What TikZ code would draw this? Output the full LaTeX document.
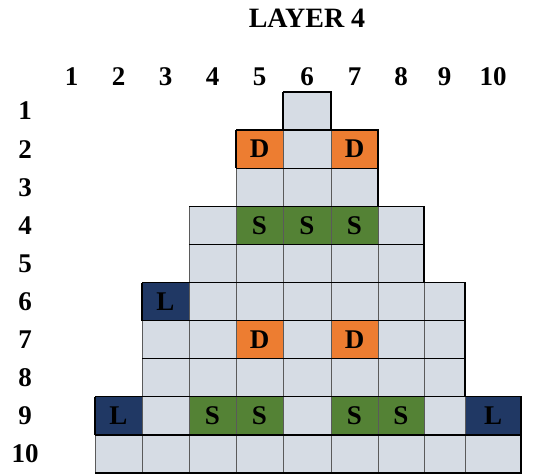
\documentclass[tikz,border=0pt]{standalone}
\usepackage{fontspec}
\setmainfont{Liberation Serif}
\usetikzlibrary{positioning}

\definecolor{cellgray}{HTML}{D6DCE4}
\definecolor{gridgray}{HTML}{5A5A5A}
\definecolor{doororange}{HTML}{ED7D31}
\definecolor{stairgreen}{HTML}{548235}
\definecolor{liftnavy}{HTML}{203864}

% column edges (left edge of column i is entry i)
\def\colx{{0,48,95,142,189,236,283,331,378,424,465,521}}

\newcommand{\gridcell}[4]{%
  \pgfmathsetmacro{\xa}{\colx[#2]}%
  \pgfmathsetmacro{\xb}{\colx[#2+1]}%
  \node[#3, minimum width={\xb-\xa}] (c-#1-#2)
    at ({(\xa+\xb)/2}, {92+38.1*(#1-0.5)}) {#4};}

\begin{document}
\begin{tikzpicture}[
  x=1pt, y=-1pt,
  lab/.style={inner sep=0pt, font=\fontsize{27}{30}\selectfont\bfseries},
  cell/.style={inner sep=0pt, outer sep=0pt, minimum height=38.1pt, draw=gridgray,
               line width=0.9pt, font=\fontsize{27}{30}\selectfont\bfseries},
  gcell/.style={cell, fill=cellgray},
  dcell/.style={cell, fill=doororange},
  scell/.style={cell, fill=stairgreen},
  lcell/.style={cell, fill=liftnavy},
  edge/.style={draw=black, line width=1.3pt, line join=miter},
]
\useasboundingbox (0,0) rectangle (556,475);
% ---- title and headers ----
\node[lab, font=\fontsize{28}{30}\selectfont\bfseries] (title) at (307,18) {LAYER 4};
\foreach \c in {1,...,10} {
  \pgfmathsetmacro{\xa}{\colx[\c]}
  \pgfmathsetmacro{\xb}{\colx[\c+1]}
  \node[lab] (h-\c) at ({(\xa+\xb)/2}, 77) {\c};
}
\foreach \r in {1,...,10}
  \node[lab] (rl-\r) at (25, {92+38.1*(\r-0.5)}) {\r};
% ---- cells, row by row ----
\foreach \c/\s/\t in {6/gcell/{}}
  {\gridcell{1}{\c}{\s}{\t}}
\foreach \c/\s/\t in {5/dcell/D, 6/gcell/{}, 7/dcell/D}
  {\gridcell{2}{\c}{\s}{\t}}
\foreach \c/\s/\t in {5/gcell/{}, 6/gcell/{}, 7/gcell/{}}
  {\gridcell{3}{\c}{\s}{\t}}
\foreach \c/\s/\t in {4/gcell/{}, 5/scell/S, 6/scell/S, 7/scell/S, 8/gcell/{}}
  {\gridcell{4}{\c}{\s}{\t}}
\foreach \c/\s/\t in {4/gcell/{}, 5/gcell/{}, 6/gcell/{}, 7/gcell/{}, 8/gcell/{}}
  {\gridcell{5}{\c}{\s}{\t}}
\foreach \c/\s/\t in {3/lcell/L, 4/gcell/{}, 5/gcell/{}, 6/gcell/{}, 7/gcell/{}, 8/gcell/{}, 9/gcell/{}}
  {\gridcell{6}{\c}{\s}{\t}}
\foreach \c/\s/\t in {3/gcell/{}, 4/gcell/{}, 5/dcell/D, 6/gcell/{}, 7/dcell/D, 8/gcell/{}, 9/gcell/{}}
  {\gridcell{7}{\c}{\s}{\t}}
\foreach \c/\s/\t in {3/gcell/{}, 4/gcell/{}, 5/gcell/{}, 6/gcell/{}, 7/gcell/{}, 8/gcell/{}, 9/gcell/{}}
  {\gridcell{8}{\c}{\s}{\t}}
\foreach \c/\s/\t in {2/lcell/L, 3/gcell/{}, 4/scell/S, 5/scell/S, 6/gcell/{}, 7/scell/S, 8/scell/S, 9/gcell/{}, 10/lcell/L}
  {\gridcell{9}{\c}{\s}{\t}}
\foreach \c/\s/\t in {2/gcell/{}, 3/gcell/{}, 4/gcell/{}, 5/gcell/{}, 6/gcell/{}, 7/gcell/{}, 8/gcell/{}, 9/gcell/{}, 10/gcell/{}}
  {\gridcell{10}{\c}{\s}{\t}}
% ---- black row borders ----
\foreach \r/\a/\b in {1/6/6, 2/5/7, 3/5/7, 4/4/8, 5/4/8, 6/3/9, 7/3/9, 8/3/9, 9/2/10, 10/2/10}
  \draw[edge] (c-\r-\a.south west) -- (c-\r-\b.south east) -- (c-\r-\b.north east) -- (c-\r-\a.north west);
\foreach \r/\a in {1/6, 2/5, 6/3, 9/2}
  \draw[edge] (c-\r-\a.north west) -- (c-\r-\a.south west);
\end{tikzpicture}
\end{document}
